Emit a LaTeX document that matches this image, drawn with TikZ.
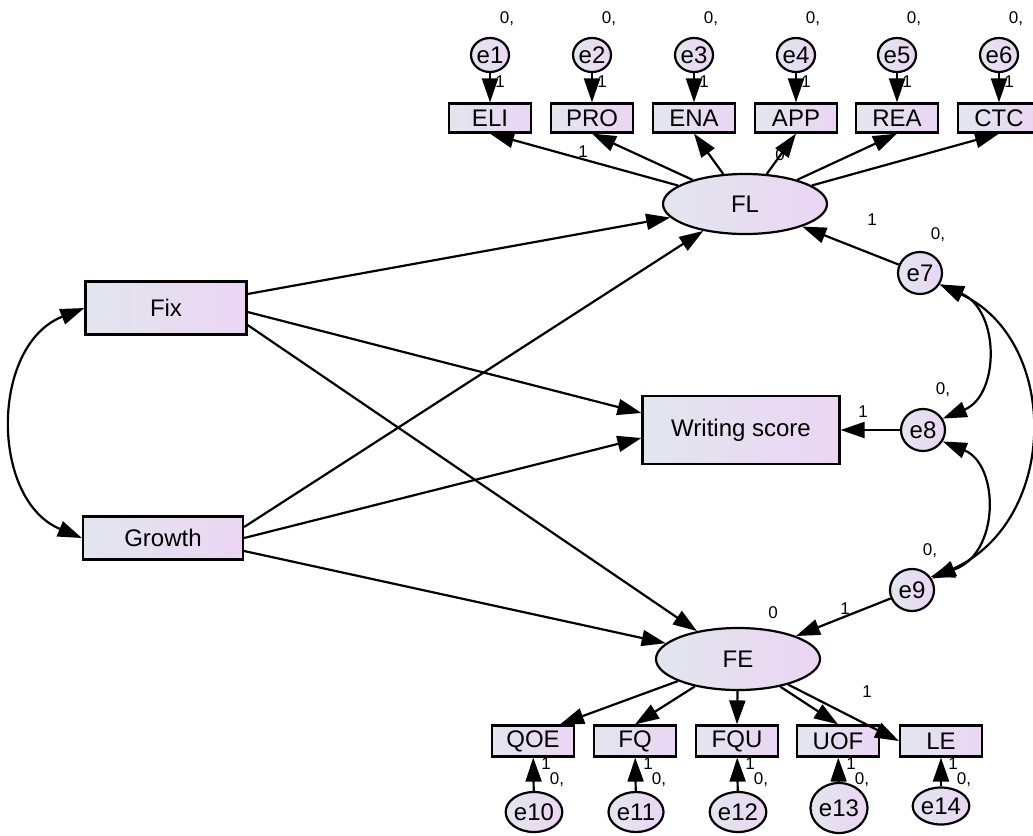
\documentclass[tikz,border=0pt]{standalone}
\usepackage{fontspec}
\setmainfont{Liberation Sans}
\usetikzlibrary{shapes.geometric, arrows.meta}

\definecolor{shadeL}{RGB}{226,230,238}
\definecolor{shadeR}{RGB}{235,213,243}

\tikzset{
	obs/.style={rectangle, draw, line width=2.2pt, left color=shadeL, right color=shadeR,
		inner sep=0pt, minimum width=82pt, minimum height=29pt, font=\fontsize{24}{24}\selectfont},
	lat/.style={ellipse, draw, line width=2.2pt, left color=shadeL, right color=shadeR,
		inner sep=0pt, minimum width=164pt, minimum height=60pt, font=\fontsize{24}{24}\selectfont},
	err/.style={ellipse, draw, line width=2.2pt, left color=shadeL, right color=shadeR,
		inner sep=0pt, minimum width=38pt, minimum height=34pt, font=\fontsize{24}{24}\selectfont},
	reg/.style={-{Triangle[length=24pt,width=16pt]}, line width=2.2pt},
	cov/.style={{Triangle[length=24pt,width=16pt]}-{Triangle[length=24pt,width=16pt]}, line width=2.2pt},
	est/.style={font=\fontsize{17}{17}\selectfont, inner sep=0pt},
}

\begin{document}
\begin{tikzpicture}[x=1pt, y=-1pt]
					\useasboundingbox[fill=white] (0,0) rectangle (1033,835);

					% exogenous and endogenous
					\node[obs, minimum width=161pt, minimum height=53pt] (fix) at (166,308) {Fix};
					\node[obs, minimum width=160pt, minimum height=43pt] (growth) at (163,538) {Growth};
					\node[obs, minimum width=197pt, minimum height=68pt] (ws) at (741,430) {Writing score};
					\node[lat] (fl) at (745,204) {FL};
					\node[lat, minimum height=62pt] (fe) at (738,659) {FE};

					% FL indicators
					\node[obs] (eli) at (490,118) {ELI};
					\node[obs] (pro) at (592,118) {PRO};
					\node[obs] (ena) at (694,118) {ENA};
					\node[obs] (app) at (796,118) {APP};
					\node[obs] (rea) at (897,118) {REA};
					\node[obs] (ctc) at (999,118) {CTC};

					\node[err] (e1) at (490,55) {e1};
					\node[err] (e2) at (592,55) {e2};
					\node[err] (e3) at (694,55) {e3};
					\node[err] (e4) at (796,55) {e4};
					\node[err] (e5) at (897,55) {e5};
					\node[err] (e6) at (999,55) {e6};

					% FE indicators
					\node[obs, minimum height=31pt] (qoe) at (533,741) {QOE};
					\node[obs, minimum height=31pt] (fq) at (635,741) {FQ};
					\node[obs, minimum height=31pt] (fqu) at (737,741) {FQU};
					\node[obs, minimum height=31pt] (uof) at (838,741) {UOF};
					\node[obs, minimum height=31pt] (le) at (941,741) {LE};

					\node[err, minimum width=55pt, minimum height=40pt] (e10) at (534,812) {e10};
					\node[err, minimum width=55pt, minimum height=40pt] (e11) at (636,812) {e11};
					\node[err, minimum width=55pt, minimum height=40pt] (e12) at (738,812) {e12};
					\node[err, minimum width=57pt, minimum height=50pt] (e13) at (839,808) {e13};
					\node[err, minimum width=52pt, minimum height=37pt] (e14) at (941,806) {e14};

					% residuals
					\node[err, minimum width=44pt, minimum height=42pt] (e7) at (920,273) {e7};
					\node[err, minimum width=44pt, minimum height=42pt] (e8) at (923,430) {e8};
					\node[err, minimum width=44pt, minimum height=42pt] (e9) at (912,590) {e9};

					% structural paths
					\draw[reg] ([yshift=14pt]fix.east) -- (fl);
					\draw[reg] ([yshift=-4pt]fix.east) -- ([yshift=17pt]ws.west);
					\draw[reg] ([yshift=-17pt]fix.east) -- (fe);
					\draw[reg] ([yshift=11pt]growth.east) -- (fl);
					\draw[reg] (growth.east) -- ([yshift=-8pt]ws.west);
					\draw[reg] ([yshift=-13pt]growth.east) -- (fe);

					\draw[reg] (e7) -- (fl);
					\draw[reg] (e8) -- (ws);
					\draw[reg] (e9) -- (fe);

					% loadings
					\draw[reg] (fl) -- (eli.south);
					\draw[reg] (fl) -- (pro.south);
					\draw[reg] (fl) -- (ena.south);
					\draw[reg] (fl) -- (app.south);
					\draw[reg] (fl) -- (rea.south);
					\draw[reg] (fl) -- (ctc.south);

					\draw[reg] (fe) -- ([xshift=27pt]qoe.north);
					\draw[reg] (fe) -- (fq.north);
					\draw[reg] (fe) -- (fqu.north);
					\draw[reg] (fe) -- (uof.north);
					\draw[reg] (fe) -- (le.west);

					\draw[reg] (e1) -- (eli);
					\draw[reg] (e2) -- (pro);
					\draw[reg] (e3) -- (ena);
					\draw[reg] (e4) -- (app);
					\draw[reg] (e5) -- (rea);
					\draw[reg] (e6) -- (ctc);

					\draw[reg] (e10) -- (qoe);
					\draw[reg] (e11) -- (fq);
					\draw[reg] (e12) -- (fqu);
					\draw[reg] (e13) -- (uof);
					\draw[reg] (e14) -- (le);

					% covariances
					\draw[cov] (fix.west) .. controls (-10,345) and (-10,500) .. (growth.west);
					\draw[cov] (e7.-30) .. controls (1000,310) and (1000,395) .. (e8.30);
					\draw[cov] (e8.-30) .. controls (1000,465) and (1000,555) .. (e9.35);
					\draw[cov] (e7.-30) .. controls (1060,340) and (1060,520) .. (e9.30);

					% estimates
					\node[est] (v1) at (507,19) {0,};
					\node[est] (v2) at (609,19) {0,};
					\node[est] (v3) at (711,19) {0,};
					\node[est] (v4) at (813,19) {0,};
					\node[est] (v5) at (914,19) {0,};
					\node[est] (v6) at (1016,19) {0,};
					\node[est] (w1) at (500,82) {1};
					\node[est] (w2) at (602,82) {1};
					\node[est] (w3) at (704,82) {1};
					\node[est] (w4) at (806,82) {1};
					\node[est] (w5) at (907,82) {1};
					\node[est] (w6) at (1009,82) {1};

					\node[est] (lpro) at (583,152) {1};
					\node[est] (lapp) at (780,155) {0};
					\node[est] (l7) at (872,220) {1};
					\node[est] (v7) at (938,235) {0,};
					\node[est] (l8) at (863,412) {1};
					\node[est] (v8) at (943,390) {0,};
					\node[est] (l9) at (845,609) {1};
					\node[est] (v9) at (930,551) {0,};
					\node[est] (vfe) at (773,613) {0};
					\node[est] (lle) at (867,692) {1};

					\node[est] (w10) at (546,764) {1};
					\node[est] (w11) at (648,764) {1};
					\node[est] (w12) at (750,764) {1};
					\node[est] (w13) at (851,764) {1};
					\node[est] (w14) at (953,764) {1};
					\node[est] (v10) at (557,780) {0,};
					\node[est] (v11) at (659,780) {0,};
					\node[est] (v12) at (761,780) {0,};
					\node[est] (v13) at (862,780) {0,};
					\node[est] (v14) at (964,780) {0,};
				\end{tikzpicture}
\end{document}
